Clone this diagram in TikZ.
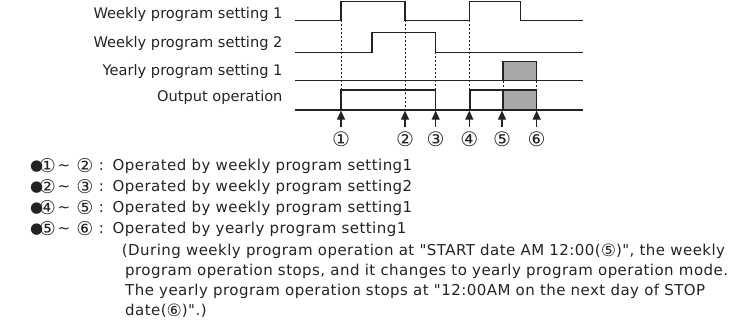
\documentclass[tikz,border=0pt]{standalone}
\usepackage{fontspec}
\setmainfont{DejaVu Sans}[Ligatures=NoCommon]
\newfontfamily\widefont{DejaVu Sans}[LetterSpace=3.0]
\usetikzlibrary{arrows.meta}
\definecolor{ink}{RGB}{35,35,35}
\definecolor{boxgray}{RGB}{168,168,168}
\newcommand\dq{\char"22\relax}
\newcommand\cnum[1]{\raisebox{-1.2pt}{\fontsize{17}{17}\selectfont #1}}
\begin{document}
\begin{tikzpicture}[x=1pt,y=-1pt,
  sig/.style={line width=1.3pt, draw=ink},
  guide/.style={line width=0.7pt, draw=ink, dash pattern=on 2pt off 2pt},
  arr/.style={line width=1.1pt, draw=ink, -{Triangle[length=9pt,width=8pt]}},
  lbl/.style={font=\fontsize{14.6}{18}\selectfont, text=ink, inner sep=0pt},
  txt/.style={font=\widefont\fontsize{15}{18}\selectfont, text=ink, inner sep=0pt},
  num/.style={font=\fontsize{20}{20}\selectfont, text=ink, inner sep=0pt},
  lnum/.style={font=\fontsize{19}{19}\selectfont, text=ink, inner sep=0pt},
  gbox/.style={line width=1.3pt, draw=ink, fill=boxgray}]
\useasboundingbox (0,0) rectangle (747,321);

% labels
\node[lbl,anchor=base east] (lw1) at (282.7,18.3) {Weekly program setting 1};
\node[lbl,anchor=base east] (lw2) at (282.7,47.7) {Weekly program setting 2};
\node[lbl,anchor=base east] (ly1) at (282.7,76) {Yearly program setting 1};
\node[lbl,anchor=base east] (lop) at (282.7,101.7) {Output operation};

% dashed guides
\draw[guide] (341,20.5) -- (341,90);
\draw[guide] (405,20.5) -- (405,110);
\draw[guide] (435.7,52.3) -- (435.7,90);
\draw[guide] (469.3,20.5) -- (469.3,90);
\draw[guide] (503,80.7) -- (503,90);
\draw[guide] (536.7,80.7) -- (536.7,90);

% signals
\draw[sig] (295,20.5) -- (341,20.5) -- (341,1.5) -- (405,1.5) -- (405,20.5) -- (469.3,20.5) -- (469.3,1.5) -- (520.3,1.5) -- (520.3,20.5) -- (582.7,20.5);
\draw[sig] (295,52.3) -- (372,52.3) -- (372,32.7) -- (435.7,32.7) -- (435.7,52.3) -- (582.7,52.3);
\draw[sig] (295,80.7) -- (582.7,80.7);
\draw[gbox] (503,61.7) rectangle (536.7,80.7);
\draw[gbox] (503,90) rectangle (536.7,110);
\draw[sig] (295,110) -- (341,110) -- (341,90) -- (435.7,90) -- (435.7,110) -- (470,110) -- (470,90) -- (503,90);
\draw[sig] (295,110) -- (582.7,110);

% arrows and numbers
\foreach \i/\xx/\n in {1/341/①,2/405/②,3/435.7/③,4/469.3/④,5/502/⑤,6/536.7/⑥}{
  \coordinate (tip\i) at (\xx,110.6);
  \coordinate (foot\i) at (\xx,127);
  \draw[arr] (foot\i) -- (tip\i);
  \node[num] (n\i) at (\xx,139.5) {\n};
}

% list
\foreach \i/\yy/\a/\b/\t in {
  1/170.7/①/②/{Operated by weekly program setting1},
  2/191.7/②/③/{Operated by weekly program setting2},
  3/212.7/④/⑤/{Operated by weekly program setting1},
  4/233.7/⑤/⑥/{Operated by yearly program setting1}}{
  \node[txt,anchor=base west] (bul\i) at (30,\yy) {●};
  \node[lnum] (fir\i) at (47.5,\yy-5) {\a};
  \node[txt,anchor=base] (til\i) at (64,\yy) {\textasciitilde};
  \node[lnum] (sec\i) at (85,\yy-5) {\b};
  \node[txt,anchor=base] (col\i) at (101.5,\yy) {:};
  \node[txt,anchor=base west] (op\i) at (112.5,\yy) {\t};
}

% paragraph
\node[txt,anchor=base west] (p1) at (121.7,255.7) {(During weekly program operation at \dq START date AM 12:00(\cnum{⑤})\dq, the weekly};
\node[txt,anchor=base west] (p2) at (125,275.7) {program operation stops, and it changes to yearly program operation mode.};
\node[txt,anchor=base west] (p3) at (125,295.7) {The yearly program operation stops at \dq 12:00AM on the next day of STOP};
\node[txt,anchor=base west] (p4) at (125,315.7) {date(\cnum{⑥})\dq.)};
\end{tikzpicture}
\end{document}
